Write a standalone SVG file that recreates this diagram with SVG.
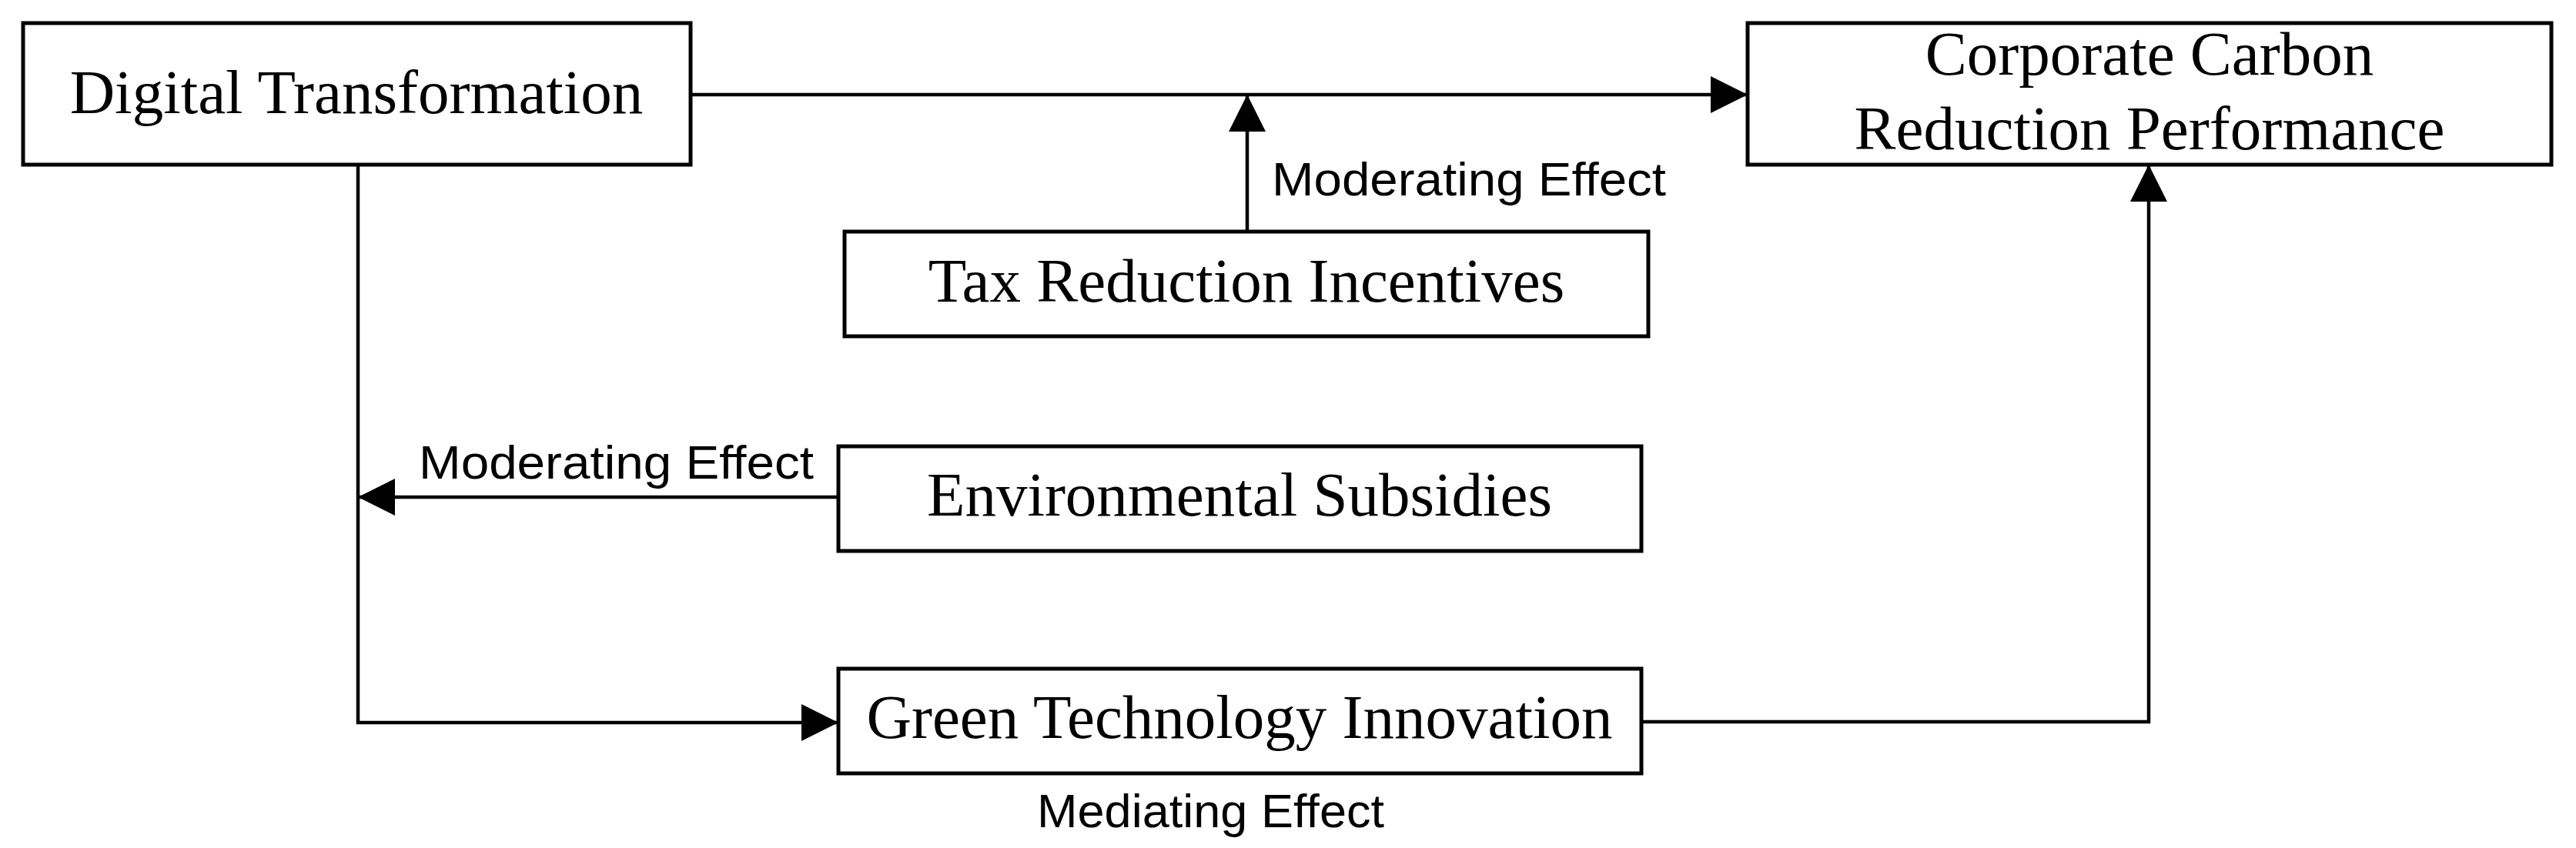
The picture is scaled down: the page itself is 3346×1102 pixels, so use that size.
<svg xmlns="http://www.w3.org/2000/svg" width="3346" height="1102" viewBox="0 0 3346 1102">
<style>
.box{fill:#fff;stroke:#000;stroke-width:5}
.t{font-family:"Liberation Serif","Times New Roman",serif;font-size:81px;fill:#000;text-anchor:middle}
.lbl{font-family:"Liberation Sans",Arial,sans-serif;font-size:62px;fill:#000}
.c{fill:none;stroke:#000;stroke-width:4.5}
</style>
<defs>
<marker id="ah" markerUnits="userSpaceOnUse" markerWidth="48" markerHeight="48" refX="48" refY="24" orient="auto">
<path d="M0,0 L48,24 L0,48 z" fill="#000"/>
</marker>
</defs>
<rect width="3346" height="1102" fill="#fff"/>
<g id="connectors">
<path class="c" d="M897,123 L2270,123" marker-end="url(#ah)"/>
<path class="c" d="M1620,301 L1620,123" marker-end="url(#ah)"/>
<path class="c" d="M1089,646 L465,646" marker-end="url(#ah)"/>
<path class="c" d="M465,214 L465,939 L1089,939" marker-end="url(#ah)"/>
<path class="c" d="M2132,938 L2791,938 L2791,214" marker-end="url(#ah)"/>
<text class="lbl" x="1652" y="254" textLength="512" lengthAdjust="spacingAndGlyphs">Moderating  Effect</text>
<text class="lbl" x="544" y="622" textLength="513" lengthAdjust="spacingAndGlyphs">Moderating  Effect</text>
<text class="lbl" x="1347" y="1075" textLength="451" lengthAdjust="spacingAndGlyphs">Mediating Effect</text>
</g>
<g id="digital-transformation">
<rect class="box" x="30" y="30" width="867" height="184"/>
<text class="t" x="463" y="147">Digital Transformation</text>
</g>
<g id="corporate-carbon">
<rect class="box" x="2270" y="30" width="1044" height="184"/>
<text class="t" x="2792" y="97">Corporate Carbon</text>
<text class="t" x="2792" y="194">Reduction Performance</text>
</g>
<g id="tax-reduction">
<rect class="box" x="1097" y="301" width="1044" height="136"/>
<text class="t" x="1619" y="392">Tax Reduction Incentives</text>
</g>
<g id="environmental-subsidies">
<rect class="box" x="1089" y="580" width="1043" height="136"/>
<text class="t" x="1610" y="670">Environmental Subsidies</text>
</g>
<g id="green-technology">
<rect class="box" x="1089" y="869" width="1043" height="136"/>
<text class="t" x="1610" y="959">Green Technology Innovation</text>
</g>
</svg>
